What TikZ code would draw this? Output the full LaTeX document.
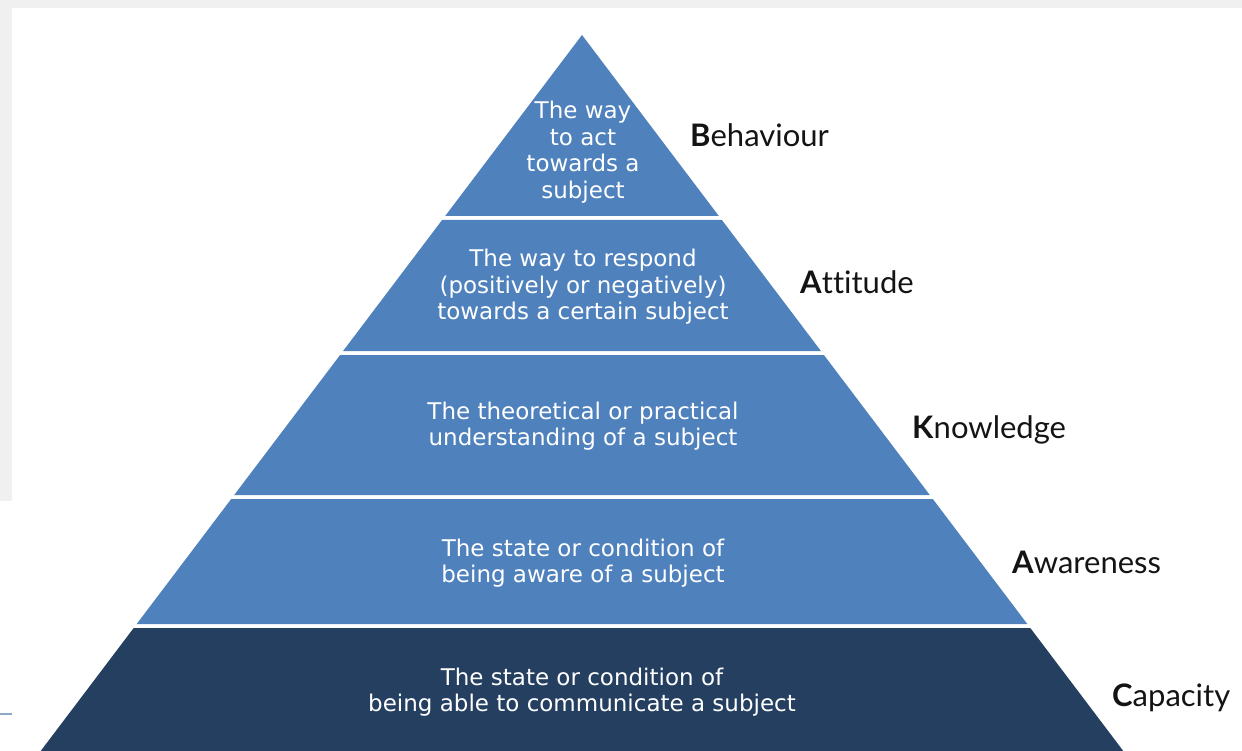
\documentclass[tikz,border=0pt]{standalone}
\usepackage{fontspec}
\setmainfont{DejaVu Sans}
\newfontfamily\labelfont[Ligatures=NoCommon]{Lato}
\definecolor{tierblue}{RGB}{79,129,189}
\definecolor{tierdark}{RGB}{36,63,96}
\definecolor{bggray}{RGB}{240,240,240}
\definecolor{marklinecol}{RGB}{142,169,200}
\definecolor{labelcol}{RGB}{20,20,20}
\begin{document}
\begin{tikzpicture}[x=1pt,y=-1pt,
  tiertext/.style={text=white, align=center, font=\fontsize{23}{26.5}\selectfont, inner sep=0pt},
  sidelabel/.style={anchor=base west, text=labelcol, font=\labelfont\fontsize{31}{34}\selectfont, inner sep=0pt}]
\useasboundingbox (0,0) rectangle (1242,751);
\fill[white] (0,0) rectangle (1242,751);
\fill[bggray] (0,0) rectangle (1242,8);
\fill[bggray] (0,0) rectangle (12,501);
\draw[marklinecol, line width=2pt] (0,714) -- (12,714);
% tiers
\fill[tierblue] (582,35) -- (718.8,216) -- (445.2,216) -- cycle;
\fill[tierblue] (442.1,220) -- (721.9,220) -- (820.9,351) -- (343.1,351) -- cycle;
\fill[tierblue] (340.1,355) -- (823.9,355) -- (929.8,495) -- (234.2,495) -- cycle;
\fill[tierblue] (231.2,499) -- (932.8,499) -- (1027.3,624) -- (136.7,624) -- cycle;
\fill[tierdark] (133.7,628) -- (1030.3,628) -- (1123.3,751) -- (40.7,751) -- cycle;
% texts
\node[tiertext] (t1) at (583,152) {The way\\to act\\towards a\\subject};
\node[tiertext] (t2) at (583,287) {The way to respond\\(positively or negatively)\\towards a certain subject};
\node[tiertext] (t3) at (583,426) {The theoretical or practical\\understanding of a subject};
\node[tiertext] (t4) at (583,563) {The state or condition of\\being aware of a subject};
\node[tiertext] (t5) at (582,692) {The state or condition of\\being able to communicate a subject};
% labels
\node[sidelabel] (lb) at (690,147) {\textbf{B}ehaviour};
\node[sidelabel] (la) at (800,294) {\textbf{A}ttitude};
\node[sidelabel] (lk) at (912,438) {\textbf{K}nowledge};
\node[sidelabel] (lw) at (1012,573) {\textbf{A}wareness};
\node[sidelabel] (lc) at (1112,706) {\textbf{C}apacity};
\end{tikzpicture}
\end{document}
